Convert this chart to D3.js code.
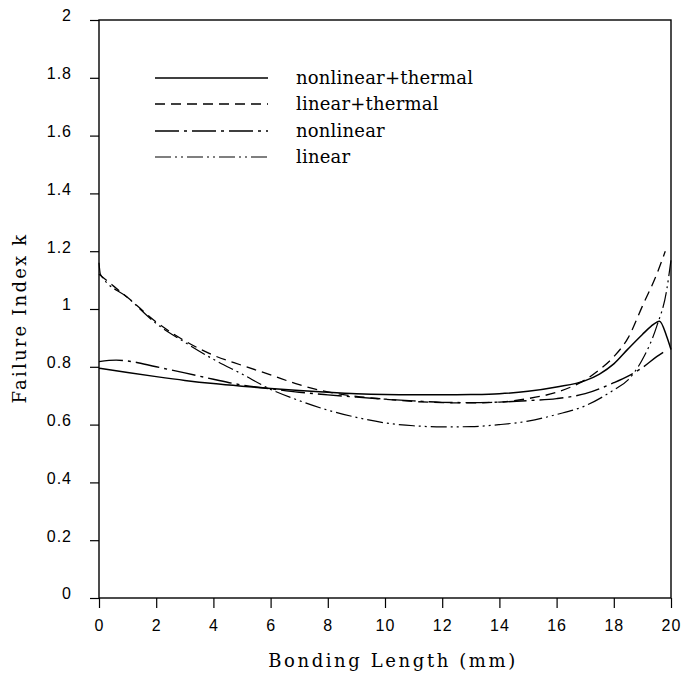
<!DOCTYPE html>
<html>
<head>
<meta charset="utf-8">
<script src="https://cdn.jsdelivr.net/npm/d3@7"></script>
<style>
  body { margin: 0; background: #fff; }
  svg { display: block; }
</style>
</head>
<body>
<svg id="chart" width="685" height="675"></svg>
<script>
// values: [bonding length (mm), failure index k]
const nonlinearThermal = [[0,0.795],[1,0.78],[2,0.766],[3,0.753],[4,0.742],[5,0.733],[6,0.725],[7,0.718],[8,0.712],[9,0.707],[10,0.704],[11,0.703],[12,0.703],[13,0.704],[14,0.707],[15,0.715],[16,0.73],[17,0.752],[17.5,0.775],[18,0.81],[18.5,0.862],[19,0.912],[19.3,0.94],[19.6,0.958],[19.85,0.905],[20,0.86]]
const linearThermal = [[0,1.12],[0.5,1.08],[1,1.04],[2,0.955],[3,0.89],[4,0.84],[5,0.805],[6,0.772],[7,0.738],[8,0.713],[9,0.698],[10,0.688],[11,0.68],[12,0.676],[13,0.675],[14,0.678],[15,0.69],[16,0.712],[17,0.755],[17.5,0.79],[18,0.835],[18.5,0.9],[19,1.01],[19.5,1.12],[19.8,1.2]]
const nonlinear = [[0,0.818],[0.6,0.823],[1,0.82],[2,0.8],[3,0.779],[4,0.757],[5,0.737],[6,0.724],[7,0.712],[8,0.703],[9,0.695],[10,0.688],[11,0.682],[12,0.677],[13,0.676],[14,0.678],[15,0.683],[16,0.69],[17,0.707],[18,0.745],[18.5,0.768],[19,0.797],[19.5,0.835],[19.8,0.855]]
const linear = [[0,1.16],[0.05,1.12],[1,1.04],[2,0.95],[3,0.885],[4,0.826],[5,0.775],[6,0.722],[7,0.683],[8,0.65],[9,0.625],[10,0.606],[11,0.596],[12,0.592],[13,0.593],[14,0.6],[15,0.612],[16,0.635],[17,0.665],[18,0.72],[18.5,0.755],[19,0.825],[19.5,0.94],[19.85,1.066],[20,1.17]]

const seriesNames = ["nonlinear+thermal", "linear+thermal", "nonlinear", "linear"]
const xTicks = [0,2,4,6,8,10,12,14,16,18,20]
const yTicks = [0,0.2,0.4,0.6,0.8,1,1.2,1.4,1.6,1.8,2]

const series = [
  {name: seriesNames[0], values: nonlinearThermal, dash: null, w: 1.5},
  {name: seriesNames[1], values: linearThermal, dash: "10,6", w: 1.3},
  {name: seriesNames[2], values: nonlinear, dash: "24,5,3,5", w: 1.4},
  {name: seriesNames[3], values: linear, dash: "16,4,2,4,2,4", w: 1.2}
]

const svg = d3.select("#chart")
const m = {left: 99, right: 671, top: 20, bottom: 598}

const x = d3.scaleLinear().domain([0, 20]).range([m.left, m.right])
const y = d3.scaleLinear().domain([0, 2]).range([m.bottom, m.top])

// frame
svg.append("rect")
  .attr("x", m.left).attr("y", m.top)
  .attr("width", m.right - m.left).attr("height", m.bottom - m.top)
  .attr("fill", "none").attr("stroke", "#000").attr("stroke-width", 1.4)

// x axis
const xAxis = svg.append("g")
  .attr("transform", `translate(0,${m.bottom})`)
  .call(d3.axisBottom(x).tickValues(xTicks).tickFormat(d3.format("d")).tickSize(10).tickSizeOuter(0))
xAxis.select(".domain").remove()
xAxis.selectAll("line").attr("stroke-width", 1.2)
xAxis.selectAll("text")
  .attr("y", 22)
  .style("font-family", "'Liberation Sans', Arial, sans-serif")
  .style("font-size", "16px")
  .style("letter-spacing", "1px")
  .attr("fill", "#000")

// y axis
const yAxis = svg.append("g")
  .attr("transform", `translate(${m.left},0)`)
  .call(d3.axisLeft(y).tickValues(yTicks).tickFormat(d => String(+d.toFixed(1))).tickSize(9).tickSizeOuter(0))
yAxis.select(".domain").remove()
yAxis.selectAll("line").attr("stroke-width", 1.2)
yAxis.selectAll("text")
  .attr("x", -27)
  .attr("dy", "0.05em")
  .style("font-family", "'Liberation Sans', Arial, sans-serif")
  .style("font-size", "16px")
  .style("letter-spacing", "1px")
  .attr("fill", "#000")

// axis titles
svg.append("text")
  .attr("x", (m.left + m.right) / 2 + 8).attr("y", 667)
  .attr("text-anchor", "middle")
  .style("font-family", "'DejaVu Serif', serif")
  .style("font-size", "18px")
  .style("letter-spacing", "2.6px")
  .text("Bonding Length (mm)")

svg.append("text")
  .attr("transform", "translate(26,318) rotate(-90)")
  .attr("text-anchor", "middle")
  .style("font-family", "'DejaVu Serif', serif")
  .style("font-size", "18px")
  .style("letter-spacing", "2.2px")
  .text("Failure Index k")

// curves
const line = d3.line()
  .x(d => x(d[0]))
  .y(d => y(d[1]))
  .curve(d3.curveMonotoneX)

svg.selectAll("path.curve")
  .data(series)
  .join("path")
  .attr("class", "curve")
  .attr("d", d => line(d.values))
  .attr("fill", "none")
  .attr("stroke", "#000")
  .attr("stroke-width", d => d.w)
  .attr("stroke-dasharray", d => d.dash)

// legend
const legend = svg.append("g")
const rowY = [78, 104, 131, 157]
series.forEach((s, i) => {
  legend.append("line")
    .attr("x1", 155).attr("x2", 268)
    .attr("y1", rowY[i]).attr("y2", rowY[i])
    .attr("stroke", "#000")
    .attr("stroke-width", s.w)
    .attr("stroke-dasharray", s.dash)
  legend.append("text")
    .attr("x", 296).attr("y", rowY[i] + 6)
    .style("font-family", "'DejaVu Serif', serif")
    .style("font-size", "18px")
    .style("letter-spacing", "0.2px")
    .text(s.name)
})
</script>
</body>
</html>
